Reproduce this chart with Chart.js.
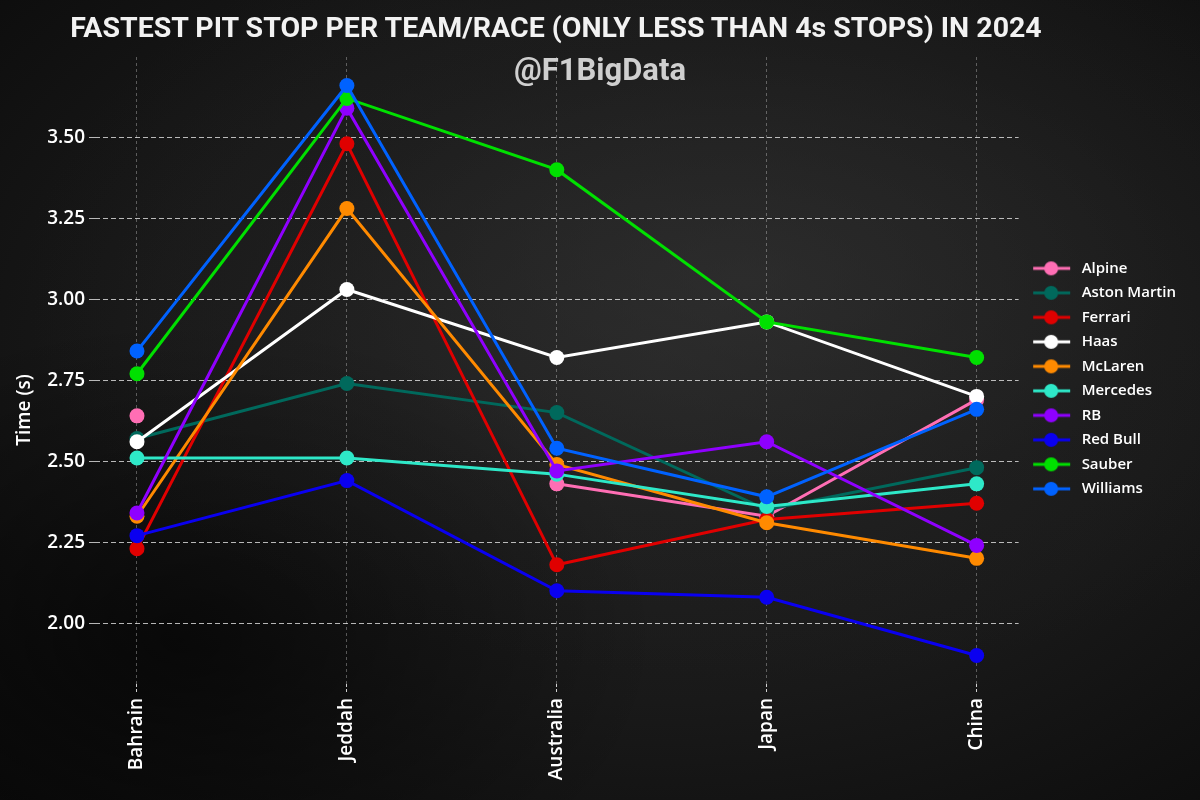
<!DOCTYPE html>
<html>
<head>
<meta charset="utf-8">
<script src="https://cdn.jsdelivr.net/npm/chart.js@4.4.1/dist/chart.umd.min.js"></script>
<style>
  html, body { margin: 0; padding: 0; }
  body {
    width: 1200px; height: 800px; overflow: hidden; position: relative;
    background:
      radial-gradient(ellipse 60% 50% at 62% 35%, rgba(55,55,55,0.5) 0%, rgba(40,40,40,0.2) 60%, rgba(0,0,0,0) 100%),
      radial-gradient(ellipse 40% 40% at 15% 80%, rgba(0,0,0,0.6) 0%, rgba(0,0,0,0) 100%),
      radial-gradient(ellipse at 55% 45%, #242424 0%, #191919 55%, #0b0b0b 100%);
  }
  #wrap { position: absolute; left: 0; top: 0; width: 1200px; height: 800px; }
  .ttl { position: absolute; left: 0; width: 1200px; text-align: center; font-family: Roboto, "Open Sans", sans-serif; font-weight: 700; white-space: nowrap; }
  #t1 { top: 11px; font-size: 28.5px; color: #f2f2f2; left: -44px; }
  #t2 { top: 51px; font-size: 31px; color: #cfcfcf; }
</style>
</head>
<body>
<div id="wrap"><canvas id="c" width="1200" height="800"></canvas></div>
<div class="ttl" id="t1">FASTEST PIT STOP PER TEAM/RACE (ONLY LESS THAN 4s STOPS) IN 2024</div>
<div class="ttl" id="t2">@F1BigData</div>
<script>
const categories = ['Bahrain', 'Jeddah', 'Australia', 'Japan', 'China'];
const teams = ['Alpine', 'Aston Martin', 'Ferrari', 'Haas', 'McLaren', 'Mercedes', 'RB', 'Red Bull', 'Sauber', 'Williams'];
const alpine      = [2.64, null, 2.43, 2.33, 2.69];
const astonMartin = [2.57, 2.74, 2.65, 2.35, 2.48];
const ferrari     = [2.23, 3.48, 2.18, 2.32, 2.37];
const haas        = [2.56, 3.03, 2.82, 2.93, 2.70];
const mclaren     = [2.33, 3.28, 2.49, 2.31, 2.20];
const mercedes    = [2.51, 2.51, 2.46, 2.36, 2.43];
const rb          = [2.34, 3.59, 2.47, 2.56, 2.24];
const redBull     = [2.27, 2.44, 2.10, 2.08, 1.90];
const sauber      = [2.77, 3.62, 3.40, 2.93, 2.82];
const williams    = [2.84, 3.66, 2.54, 2.39, 2.66];
const yTicks = [2.00, 2.25, 2.50, 2.75, 3.00, 3.25, 3.50];
const yTitle = 'Time (s)';

const seriesValues = [alpine, astonMartin, ferrari, haas, mclaren, mercedes, rb, redBull, sauber, williams];
const colors = ['#ff6eb4', '#00695c', '#e00000', '#ffffff', '#ff8a00', '#2ee8c8', '#8f00ff', '#0a00f0', '#00e000', '#0062ff'];

function legendIcon(color) {
  const cv = document.createElement('canvas');
  cv.width = 46; cv.height = 16;
  const g = cv.getContext('2d');
  g.strokeStyle = color; g.lineWidth = 3;
  g.beginPath(); g.moveTo(5, 8); g.lineTo(42, 8); g.stroke();
  g.fillStyle = color;
  g.beginPath(); g.arc(23, 8, 7, 0, Math.PI * 2); g.fill();
  return cv;
}

const datasets = teams.map((name, i) => ({
  label: name,
  data: seriesValues[i].map((v, j) => ({ x: j, y: v })),
  borderColor: colors[i],
  backgroundColor: colors[i],
  borderWidth: 3,
  pointRadius: 7.5,
  pointHoverRadius: 7.5,
  pointBorderWidth: 0,
  spanGaps: false,
  order: -i,
  tension: 0
}));

const fontFam = '"Open Sans", Roboto, sans-serif';

new Chart(document.getElementById('c'), {
  type: 'line',
  data: { datasets },
  options: {
    responsive: false,
    animation: false,
    devicePixelRatio: 1,
    layout: { padding: { top: 57, left: 0, right: 14, bottom: 0 } },
    plugins: {
      tooltip: { enabled: false },
      legend: {
        position: 'right',
        align: 'center',
        fullSize: false,
        title: { display: true, text: '', font: { size: 1 }, padding: { top: 15, bottom: 0 } },
        labels: {
          color: '#ffffff',
          font: { family: fontFam, size: 15, weight: '600' },
          usePointStyle: true,
          pointStyleWidth: 46,
          boxHeight: 16,
          padding: 9.5,
          generateLabels(chart) {
            return chart.data.datasets.map((ds, i) => ({
              text: ds.label,
              fillStyle: ds.backgroundColor,
              strokeStyle: ds.borderColor,
              fontColor: '#ffffff',
              lineWidth: 0,
              pointStyle: legendIcon(ds.borderColor),
              hidden: false,
              datasetIndex: i
            }));
          }
        }
      }
    },
    scales: {
      x: {
        type: 'linear',
        min: -0.2, max: 4.2,
        afterBuildTicks(scale) { scale.ticks = categories.map((c, i) => ({ value: i })); },
        afterFit(scale) { scale.height = 116; },
        ticks: {
          color: '#ffffff',
          font: { family: fontFam, size: 19, weight: '600' },
          minRotation: 90, maxRotation: 90,
          autoSkip: false,
          padding: 6,
          callback: (v) => categories[v]
        },
        border: { display: false, dash: [3, 3] },
        grid: {
          color: 'rgba(255,255,255,0.3)',
          lineWidth: 1,
          tickLength: 8,
          tickColor: 'rgba(255,255,255,0.8)',
          tickBorderDash: [3, 2]
        }
      },
      y: {
        type: 'linear',
        min: 1.812, max: 3.748,
        afterBuildTicks(scale) { scale.ticks = yTicks.map(v => ({ value: v })); },
        afterFit(scale) { scale.width = 95; },
        ticks: {
          color: '#ffffff',
          font: { family: fontFam, size: 19, weight: '600' },
          padding: 4,
          callback: (v) => Number(v).toFixed(2)
        },
        border: { display: false, dash: [5, 3] },
        grid: {
          color: 'rgba(255,255,255,0.7)',
          lineWidth: 1,
          tickLength: 6,
          tickColor: 'rgba(255,255,255,0.7)'
        }
      }
    }
  },
  plugins: [{
    id: 'yTitle',
    afterDraw(chart) {
      const ctx = chart.ctx;
      ctx.save();
      ctx.translate(25, 410);
      ctx.rotate(-Math.PI / 2);
      ctx.fillStyle = '#ffffff';
      ctx.font = '600 19px ' + fontFam;
      ctx.textAlign = 'center';
      ctx.textBaseline = 'middle';
      ctx.fillText(yTitle, 0, 0);
      ctx.restore();
    }
  }]
});
</script>
</body>
</html>
